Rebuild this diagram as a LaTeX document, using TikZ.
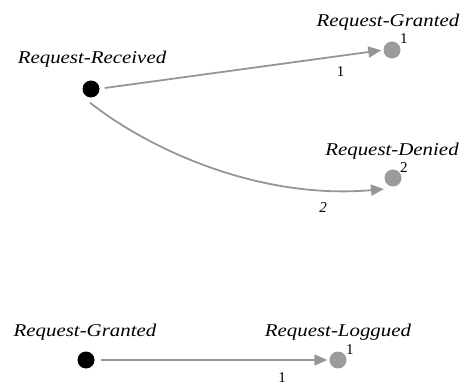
\documentclass[tikz,border=0pt]{standalone}
\usepackage{fontspec}
\setmainfont{Liberation Serif}
\newfontfamily\lblfont[FakeStretch=1.16]{Liberation Serif}
\usetikzlibrary{arrows.meta}
\definecolor{dotgray}{RGB}{155,155,155}
\definecolor{edgegray}{RGB}{150,150,150}
\tikzset{
  srcdot/.style={circle,fill=black,minimum size=17pt,inner sep=0pt},
  dstdot/.style={circle,fill=dotgray,minimum size=17pt,inner sep=0pt},
  statelbl/.style={font=\lblfont\fontsize{18}{20}\selectfont\itshape,inner sep=0pt,anchor=base},
  sup/.style={font=\fontsize{15}{17}\selectfont,inner sep=0pt,anchor=base west},
  edgelbl/.style={font=\fontsize{15}{17}\selectfont,inner sep=0pt,anchor=base},
  conn/.style={draw=edgegray,line width=1.8pt,-{Triangle[length=13pt,width=11pt]},shorten >=2pt}
}
\begin{document}
\begin{tikzpicture}[x=1pt,y=-1pt]
\useasboundingbox (0,0) rectangle (469,385);
% top graph
\node[srcdot] (rr) at (91,89) {};
\node[statelbl] (rrl) at (92,64) {Request-Received};
\node[dstdot] (rg) at (392,50) {};
\node[statelbl] (rgl) at (388,27) {Request-Granted};
\node[sup] (rgs) at (400,44) {1};
\node[dstdot] (rd) at (393,178) {};
\node[statelbl] (rdl) at (392,156) {Request-Denied};
\node[sup] (rds) at (400,173) {2};
\coordinate (rdT) at ([shift={(-9,11)}]rd.center);
\draw[conn] (rr.east) ++(5,-1) coordinate (rrE) -- (rg.west);
\node[edgelbl] (e1) at (340.5,77) {1};
\draw[conn,shorten >=0pt] (rr.south) ++(-1,5) coordinate (rrS) .. controls (150,150) and (260,200) .. (rdT);
\node[edgelbl,font=\fontsize{15}{17}\selectfont\itshape] (e2) at (323,213) {2};
% bottom graph
\node[srcdot] (bg) at (86,360) {};
\node[statelbl] (bgl) at (85,336) {Request-Granted};
\node[dstdot] (bl) at (338,360) {};
\node[statelbl] (bll) at (338,336) {Request-Loggued};
\node[sup] (bls) at (346,354) {1};
\draw[conn] (bg.east) ++(6,0) coordinate (bgE) -- (bl.west);
\node[edgelbl] (e3) at (282,382) {1};
\end{tikzpicture}
\end{document}
